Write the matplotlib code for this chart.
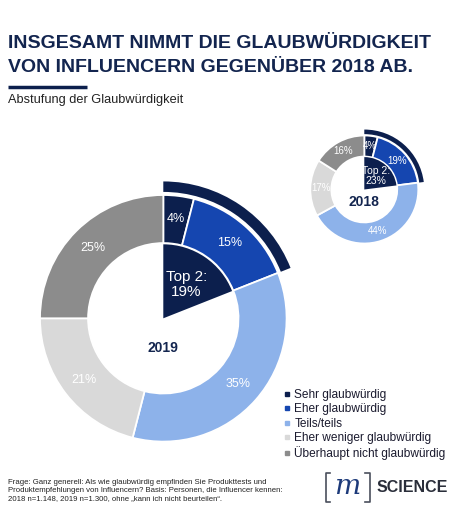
import numpy as np
import matplotlib
matplotlib.use("Agg")
import matplotlib.pyplot as plt
from matplotlib.lines import Line2D

plt.rcParams['font.family'] = ['Liberation Sans', 'DejaVu Sans']

categories = ["Sehr glaubwürdig", "Eher glaubwürdig", "Teils/teils",
              "Eher weniger glaubwürdig", "Überhaupt nicht glaubwürdig"]
values_2019 = [4, 15, 35, 21, 25]
values_2018 = [4, 19, 44, 17, 16]
top2_2019 = 19
top2_2018 = 23
colors = ["#0c1f4d", "#1546b0", "#8db2ea", "#d9d9d9", "#8c8c8c"]
navy = "#0c1f4d"
title_col = "#13254f"

W, H = 468, 522
L = 1.2
fig = plt.figure(figsize=(W / 100, H / 100), dpi=100)

# overlay in pixel coordinates for title decorations and logo
ov = fig.add_axes([0, 0, 1, 1])
ov.set_xlim(0, W)
ov.set_ylim(H, 0)
ov.axis('off')


def donut_axes(cx, cy, r):
    size = 2 * L * r
    ax = fig.add_axes([(cx - L * r) / W, (H - cy - L * r) / H, size / W, size / H])
    ax.axis('off')
    return ax


def draw_donut(ax, vals, top2, year, pct_fs, top_fs, year_fs):
    ax.pie(vals, colors=colors, startangle=90, counterclock=False, radius=1.0,
           wedgeprops=dict(width=0.39, edgecolor='white', linewidth=1.3),
           autopct='%.0f%%', pctdistance=0.81,
           textprops=dict(color='white', fontsize=pct_fs))
    # inner top-2 wedge
    ax.pie([top2, 100 - top2], colors=[navy, 'none'], startangle=90,
           counterclock=False, radius=0.6, wedgeprops=dict(linewidth=0))
    # outer band around top 2
    ax.pie([top2, 100 - top2], colors=[navy, 'none'], startangle=90,
           counterclock=False, radius=1.11, wedgeprops=dict(width=0.085, linewidth=0))
    ang = np.deg2rad(90 - top2 * 3.6 / 2)
    ax.text(0.33 * np.cos(ang), 0.33 * np.sin(ang), "Top 2:\n%d%%" % top2,
            color='white', fontsize=top_fs, ha='center', va='center', linespacing=1.05)
    ax.text(0, -0.24, year, color=title_col, fontsize=year_fs, fontweight='bold',
            ha='center', va='center')
    # pie() resets the limits, so set them afterwards
    ax.set_xlim(-L, L)
    ax.set_ylim(-L, L)
    ax.set_aspect('equal')


ax_big = donut_axes(163.3, 318.3, 123.3)
draw_donut(ax_big, values_2019, top2_2019, "2019", 9, 11, 10)

ax_small = donut_axes(364.3, 189.5, 54)
draw_donut(ax_small, values_2018, top2_2018, "2018", 7, 7.5, 10)

# title
fig.text(8 / W, 1 - 43 / H, "INSGESAMT NIMMT DIE GLAUBWÜRDIGKEIT", fontsize=14,
         fontweight='bold', color=title_col, va='center', ha='left')
fig.text(8 / W, 1 - 67 / H, "VON INFLUENCERN GEGENÜBER 2018 AB.", fontsize=14,
         fontweight='bold', color=title_col, va='center', ha='left')
ov.plot([8, 87], [87, 87], color=navy, linewidth=2.5, solid_capstyle='butt')
fig.text(8 / W, 1 - 100 / H, "Abstufung der Glaubwürdigkeit", fontsize=9.2,
         color='#222222', va='center', ha='left')

# legend
handles = [Line2D([], [], marker='s', linestyle='', markersize=3.2, color=c) for c in colors]
fig.legend(handles, categories, loc='upper left',
           bbox_to_anchor=(283 / W, 1 - 389 / H), frameon=False, fontsize=8.6,
           handlelength=0.6, handletextpad=0.35, labelspacing=0.2,
           borderpad=0, borderaxespad=0, labelcolor='#1a1a2e')

# footnote
fig.text(8 / W, 1 - 479 / H,
         "Frage: Ganz generell: Als wie glaubwürdig empfinden Sie Produkttests und\n"
         "Produktempfehlungen von Influencern? Basis: Personen, die Influencer kennen:\n"
         "2018 n=1.148, 2019 n=1.300, ohne \u201ekann ich nicht beurteilen\u201c.",
         fontsize=5.6, color='#222222', va='top', ha='left', linespacing=1.2)

# logo
bc = '#4a4f5c'
ov.plot([330, 325.5, 325.5, 330], [473, 473, 502, 502], color=bc, linewidth=1.2)
ov.plot([365, 369.5, 369.5, 365], [473, 473, 502, 502], color=bc, linewidth=1.2)
ov.text(347.5, 486, "m", fontsize=20, fontstyle='italic',
        family='DejaVu Serif', color='#1d3a7a', ha='center', va='center')
ov.text(377, 487, "SCIENCE", fontsize=11.5, fontweight='bold', color='#2a2e3a',
        ha='left', va='center')

fig.savefig("out.png", dpi=100)
